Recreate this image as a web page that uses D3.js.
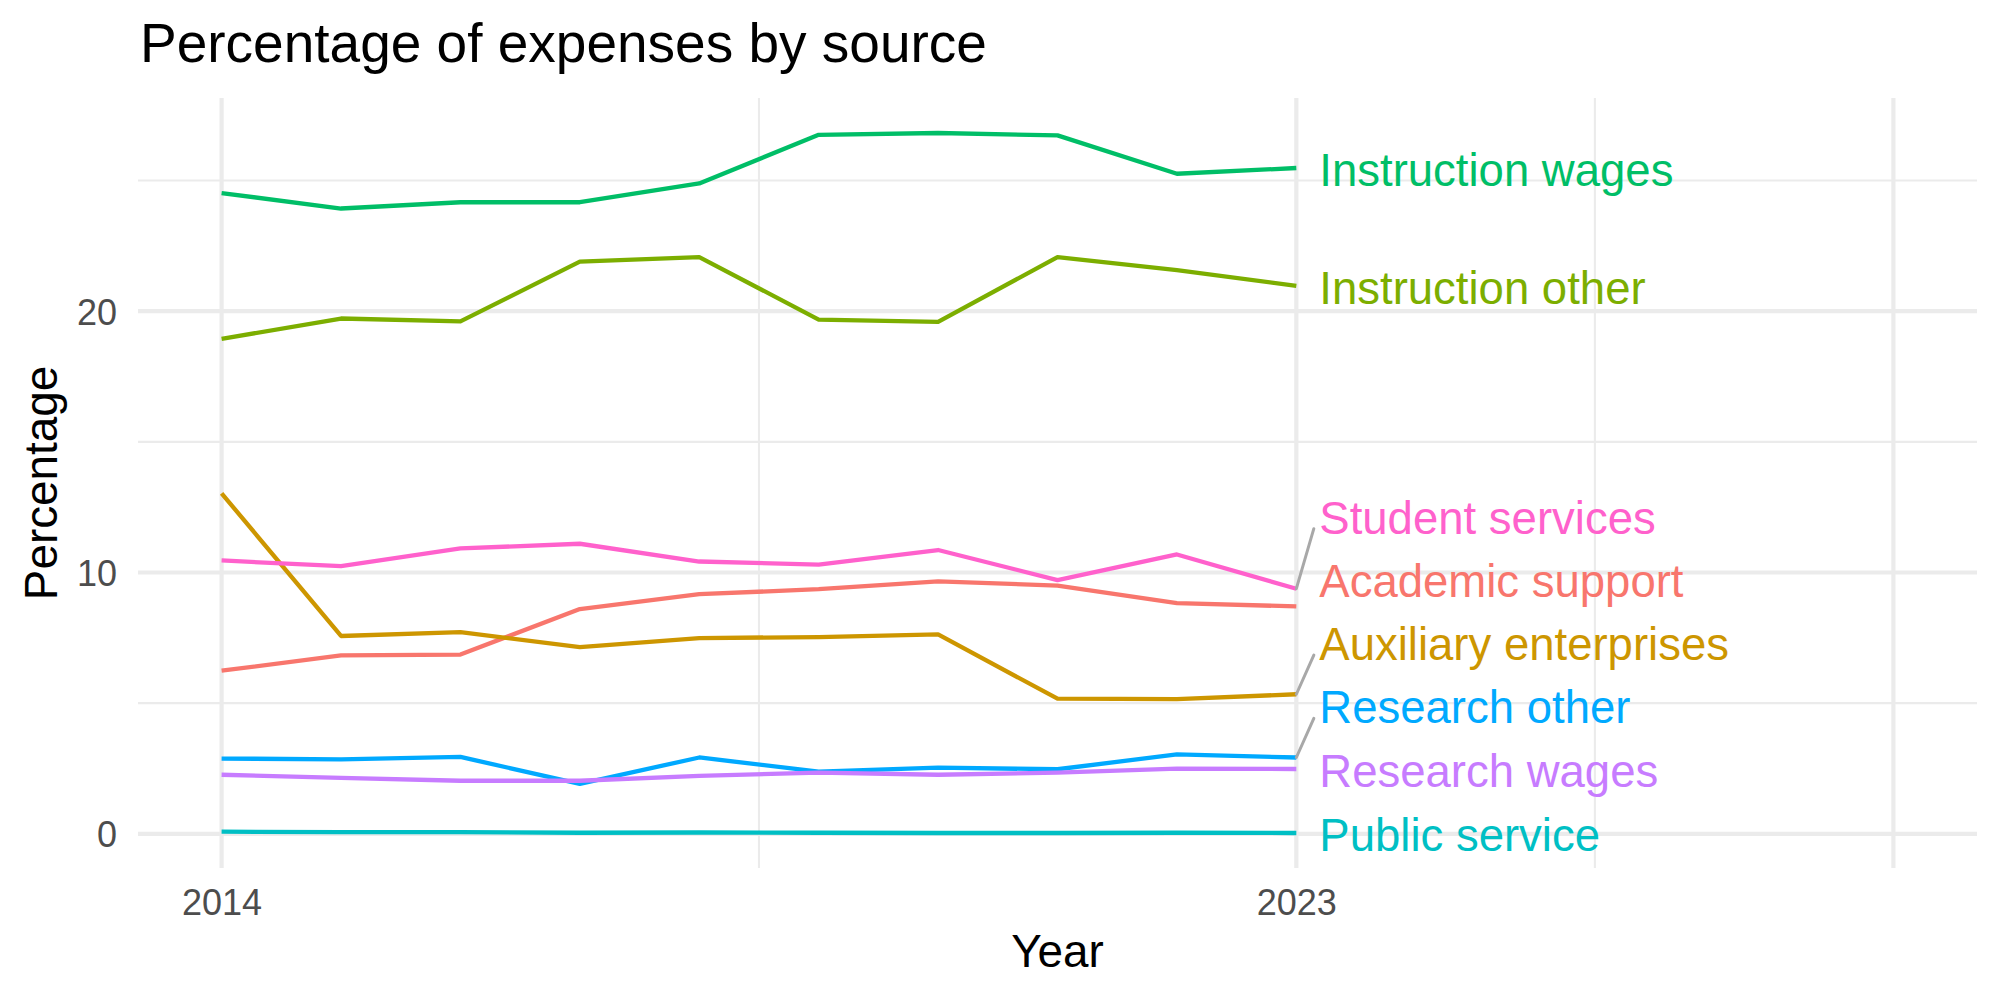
<!DOCTYPE html>
<html>
<head>
<meta charset="utf-8">
<script src="https://cdn.jsdelivr.net/npm/d3@7"></script>
<style>
  body { margin: 0; background: #fff; }
  svg { display: block; }
  text { font-family: "Liberation Sans", Arial, Helvetica, sans-serif; }
</style>
</head>
<body>
<div id="container"></div>
<script>
/* DATA */
const years = [2014, 2015, 2016, 2017, 2018, 2019, 2020, 2021, 2022, 2023];
const seriesNames = ["Academic support", "Auxiliary enterprises", "Instruction other", "Instruction wages",
                     "Public service", "Research other", "Research wages", "Student services"];
const academicSupport      = [6.24, 6.83, 6.86, 8.60, 9.17, 9.36, 9.66, 9.50, 8.83, 8.70];
const auxiliaryEnterprises = [13.03, 7.57, 7.72, 7.14, 7.49, 7.53, 7.63, 5.17, 5.15, 5.34];
const instructionOther     = [18.94, 19.72, 19.61, 21.90, 22.07, 19.68, 19.59, 22.07, 21.57, 20.97];
const instructionWages     = [24.52, 23.93, 24.17, 24.17, 24.89, 26.75, 26.82, 26.73, 25.26, 25.48];
const publicService        = [0.08, 0.06, 0.06, 0.04, 0.05, 0.04, 0.03, 0.03, 0.04, 0.03];
const researchOther        = [2.88, 2.85, 2.94, 1.91, 2.92, 2.38, 2.53, 2.47, 3.04, 2.92];
const researchWages        = [2.26, 2.14, 2.03, 2.03, 2.22, 2.34, 2.26, 2.34, 2.49, 2.48];
const studentServices      = [10.46, 10.24, 10.92, 11.10, 10.42, 10.30, 10.86, 9.71, 10.69, 9.38];
const seriesValues = [academicSupport, auxiliaryEnterprises, instructionOther, instructionWages,
                      publicService, researchOther, researchWages, studentServices];

const xLimits = [2014, 2028];
const xMajor = [2014, 2023, 2028];
const xTickLabels = [2014, 2023];
const yMajor = [0, 10, 20];
const yMinor = [5, 15, 25];

/* CONSTANTS */
const width = 2000;
const height = 1000;
const panel = { left: 138, right: 1977, top: 98, bottom: 868 };
const grid = "#EBEBEB";

// ggplot default hue palette, 8 levels
const colors = ["#F8766D", "#CD9600", "#7CAE00", "#00BE67", "#00BFC4", "#00A9FF", "#C77CFF", "#FF61CC"];

const series = seriesNames.map((name, i) => ({
  name,
  color: colors[i],
  values: years.map((yr, j) => ({ year: yr, value: seriesValues[i][j] }))
}));

const svg = d3.select("#container")
  .append("svg")
  .attr("width", width)
  .attr("height", height);

/* SCALES */
const xPad = 0.05 * (xLimits[1] - xLimits[0]);
const xScale = d3.scaleLinear()
  .domain([xLimits[0] - xPad, xLimits[1] + xPad])
  .range([panel.left, panel.right]);

const allVals = seriesValues.flat();
const yMin = d3.min(allVals), yMax = d3.max(allVals);
const yPad = 0.05 * (yMax - yMin);
const yScale = d3.scaleLinear()
  .domain([yMin - yPad, yMax + yPad])
  .range([panel.bottom, panel.top]);

// minor x breaks sit half way between majors
const xMinor = d3.pairs(xMajor).map(([a, b]) => (a + b) / 2);

/* GRID */
const gridG = svg.append("g");
gridG.selectAll(".hmin").data(yMinor).join("line")
  .attr("x1", panel.left).attr("x2", panel.right)
  .attr("y1", d => yScale(d)).attr("y2", d => yScale(d))
  .attr("stroke", grid).attr("stroke-width", 2.1);
gridG.selectAll(".vmin").data(xMinor).join("line")
  .attr("y1", panel.top).attr("y2", panel.bottom)
  .attr("x1", d => xScale(d)).attr("x2", d => xScale(d))
  .attr("stroke", grid).attr("stroke-width", 2.1);
gridG.selectAll(".hmaj").data(yMajor).join("line")
  .attr("x1", panel.left).attr("x2", panel.right)
  .attr("y1", d => yScale(d)).attr("y2", d => yScale(d))
  .attr("stroke", grid).attr("stroke-width", 4.2);
gridG.selectAll(".vmaj").data(xMajor).join("line")
  .attr("y1", panel.top).attr("y2", panel.bottom)
  .attr("x1", d => xScale(d)).attr("x2", d => xScale(d))
  .attr("stroke", grid).attr("stroke-width", 4.2);

/* AXES */
const yAxis = d3.axisLeft(yScale).tickValues(yMajor).tickSize(0).tickPadding(21);
const yG = svg.append("g")
  .attr("transform", `translate(${panel.left},0)`)
  .call(yAxis);
yG.select(".domain").remove();
yG.selectAll("text")
  .attr("dy", "0.36em")
  .style("font-size", "36px")
  .style("font-family", "'Liberation Sans', Arial, sans-serif")
  .attr("fill", "#4D4D4D");

const xAxis = d3.axisBottom(xScale).tickValues(xTickLabels).tickFormat(d3.format("d")).tickSize(0).tickPadding(21);
const xG = svg.append("g")
  .attr("transform", `translate(0,${panel.bottom})`)
  .call(xAxis);
xG.select(".domain").remove();
xG.selectAll("text")
  .style("font-size", "36px")
  .style("font-family", "'Liberation Sans', Arial, sans-serif")
  .attr("fill", "#4D4D4D");

/* LINES */
const line = d3.line()
  .x(d => xScale(d.year))
  .y(d => yScale(d.value));

svg.append("g").selectAll("path")
  .data(series)
  .join("path")
  .attr("d", d => line(d.values))
  .attr("fill", "none")
  .attr("stroke", d => d.color)
  .attr("stroke-width", 4.3)
  .attr("stroke-linejoin", "round");

/* END LABELS (simple repel: stack upward with a minimum gap) */
const lastYear = years[years.length - 1];
const labelGap = 63.2;
const ends = series.map(s => ({
  name: s.name,
  color: s.color,
  py: yScale(s.values[s.values.length - 1].value)
})).sort((a, b) => b.py - a.py);

let prevY = Infinity;
ends.forEach(d => {
  d.ly = Math.min(d.py + 1.5, prevY - labelGap);
  prevY = d.ly;
});

const x0 = xScale(lastYear);
svg.append("g").selectAll("line")
  .data(ends.filter(d => Math.abs(d.ly - d.py) > 30))
  .join("line")
  .attr("x1", x0).attr("y1", d => d.py)
  .attr("x2", x0 + 17.5).attr("y2", d => d.ly + 11)
  .attr("stroke", "#A8A8A8")
  .attr("stroke-width", 3)
  .attr("stroke-linecap", "round");

svg.append("g").selectAll("text")
  .data(ends)
  .join("text")
  .attr("x", x0 + 23)
  .attr("y", d => d.ly)
  .attr("dy", "0.355em")
  .attr("fill", d => d.color)
  .style("font-size", "45.5px")
  .text(d => d.name);

/* TITLES */
svg.append("text")
  .attr("x", 140)
  .attr("y", 62)
  .style("font-size", "55px")
  .attr("fill", "#000")
  .text("Percentage of expenses by source");

svg.append("text")
  .attr("x", (panel.left + panel.right) / 2)
  .attr("y", 967)
  .attr("text-anchor", "middle")
  .style("font-size", "45.8px")
  .attr("fill", "#000")
  .text("Year");

svg.append("text")
  .attr("transform", `translate(56.5,${(panel.top + panel.bottom) / 2}) rotate(-90)`)
  .attr("text-anchor", "middle")
  .style("font-size", "45.8px")
  .attr("fill", "#000")
  .text("Percentage");
</script>
</body>
</html>
